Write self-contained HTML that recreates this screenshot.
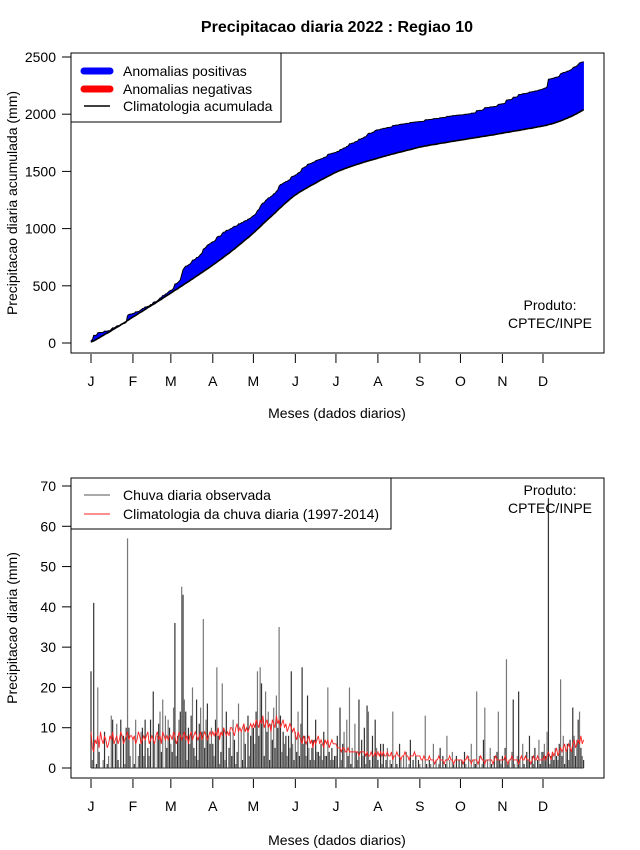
<!DOCTYPE html>
<html><head><meta charset="utf-8"><style>
body{margin:0;background:#fff}
svg{display:block;font-family:"Liberation Sans",sans-serif}
</style></head><body>
<svg id="c" width="640" height="850" viewBox="0 0 640 850" xmlns="http://www.w3.org/2000/svg">
<text x="337" y="32" text-anchor="middle" font-size="16" font-weight="bold">Precipitacao diaria 2022 : Regiao 10</text>
<g id="gtop"></g>
<g id="gbot"></g>
</svg>
<script>
const months = ["J","F","M","A","M","J","J","A","S","O","N","D"];
const monthStart = [1,32,60,91,121,152,182,213,244,274,305,335];
const topTicks = [0,500,1000,1500,2000,2500];
const botTicks = [0,10,20,30,40,50,60,70];
const obsJan=[24,2,41,0,1,20,4,0,0,2,9,0,1,3,0,13,12,0,6,11,2,0,12,0,8,1,10,57,10,3,0];
const obsFeb=[7,1,12,0,3,6,9,10,3,12,0,5,3,12,0,19,6,0,8,11,14,4,17,0,13,5,12,10];
const obsMar=[6,4,15,36,3,8,12,14,45,43,17,14,2,10,6,13,20,5,3,17,2,11,15,9,37,5,12,16,8,6,10];
const obsApr=[6,3,12,25,8,1,4,21,10,2,14,0,5,9,3,12,7,1,4,16,0,9,2,11,6,0,13,3,8,10];
const obsMay=[10,6,14,24,8,25,21,12,3,19,9,14,2,11,7,15,5,18,10,35,13,4,9,6,8,3,8,5,24,6,2];
const obsJun=[9,4,14,3,11,25,6,8,3,18,5,2,5,7,2,12,4,4,3,6,2,9,3,3,20,4,2,5,2,3];
const obsJul=[3,8,0,15,2,6,9,0,12,3,20,1,5,0,11,4,2,17,0,7,3,10,1,15.5,14,2,0,8,3,12,5];
const obsAug=[2,0,6,1,6,0,2,5,0,2,1,14,0,3,1,0,6,2,0,3,0,4,0,1,7,0,2,0,3,0,2];
const obsSep=[1,0,2,0,13,1,0,2,1,0,6,0,2,0,1,5,0,3,0,1,8,0,2,0,4,1,0,3,0,2];
const obsOct=[0,2,0,4,1,0,3,0,6,0,2,1,19,0,3,0,1,7,15,0,2,0,5,1,0,3,0,4,14,2,1];
const obsNov=[3,0,5,27,1,2,0,4,17,1,0,3,19,2,0,6,1,0,4,2,8,0,3,1,5,0,2,7,1,4];
const obsDec=[4,6,3,9,67,1,3,4,2,5,3,2,6,22,3,8,1,4,6,2,7,4,15,8,3,7,12,14,5,3,2];
const climJan=[9,5,4,7,6,8,5,9,7,6,8,7,5,6,8,7,9,6,7,8,6,7,9,8,6,7,8,9,7,8,8];
const climFeb=[7,8,6,7,9,8,6,7,8,7,8,9,6,7,8,7,6,8,9,7,8,6,9,8,7,8,7,8];
const climMar=[8,7,9,8,6,7,9,8,7,8,9,7,8,6,8,9,7,8,9,8,7,8,9,7,8,9,8,7,8,9,8];
const climApr=[9,8,9,8,10,7,9,8,10,9,8,9,8,10,10,9,8,10,11,9,10,9,10,11,9,10,9,10,11,10];
const climMay=[11,10,12,11,10,12,11,13,10,11,12,10,11,9,12,11,10,13,11,12,10,11,12,10,11,9,10,11,10,9,10];
const climJun=[8,7,9,8,7,6,8,7,6,7,8,6,7,5,7,6,7,8,6,7,6,5,7,6,7,5,6,7,6,6];
const climJul=[6,5,5,5,4,5,5,4,4,5,4,4,4,4,4,4,4,3,4,4,4,4,3,4,3,3,4,3,3,4,3];
const climAug=[4,3,4,3,4,3,3,4,3,3,4,2,3,3,4,3,3,2,3,3,4,3,3,2,3,3,3,4,3,3,3];
const climSep=[3,2,2,3,2,2,2,3,2,2,2,1,2,2,3,2,2,2,1,2,2,2,3,2,2,1,2,2,2,2];
const climOct=[2,2,1,2,2,3,2,2,1,2,2,2,2,1,2,3,2,2,1,2,2,2,2,2,1,2,3,2,2,2,2];
const climNov=[2,2,3,2,1,2,2,3,2,2,2,2,1,2,3,2,2,3,2,2,2,1,2,3,2,2,3,2,2,2];
const climDec=[2,3,2,3,4,3,2,4,3,4,5,3,4,5,4,5,6,4,5,6,5,4,6,7,5,6,7,6,8,6,7];
const obs=[].concat(obsJan,obsFeb,obsMar,obsApr,obsMay,obsJun,obsJul,obsAug,obsSep,obsOct,obsNov,obsDec);
const clim=[].concat(climJan,climFeb,climMar,climApr,climMay,climJun,climJul,climAug,climSep,climOct,climNov,climDec);

const NS="http://www.w3.org/2000/svg";
function mk(p,tag,at,txt){const e=document.createElementNS(NS,tag);for(const k in at)e.setAttribute(k,at[k]);if(txt!==undefined)e.textContent=txt;p.appendChild(e);return e;}
const xd = d => 91 + (d-1)*(543-91)/334;
const yT = v => 343 - v*(343-57)/2500;
const yB = v => 768 - v*(768-486)/70;
const gTop=document.getElementById('gtop'), gBot=document.getElementById('gbot');

let co=[],cc=[],so=0,sc=0;
for(let i=0;i<obs.length;i++){so+=obs[i];sc+=clim[i];co.push(so);cc.push(sc);}
for(let i=0;i<co.length-1;i++){
  const pos=(co[i]+co[i+1])>=(cc[i]+cc[i+1]);
  const q=mk(gTop,'polygon',{points:`${xd(i+1)},${yT(co[i])} ${xd(i+2)},${yT(co[i+1])} ${xd(i+2)},${yT(cc[i+1])} ${xd(i+1)},${yT(cc[i])}`,fill:pos?'#0000ff':'#ff0000',stroke:pos?'#0000ff':'#ff0000','stroke-width':0.6});
  
  
}
const pl=mk(gTop,'polyline',{points:co.map((v,i)=>`${xd(i+1)},${yT(v)}`).join(' '),fill:'none',stroke:'#000','stroke-width':1});


const pc=mk(gTop,'polyline',{points:cc.map((v,i)=>`${xd(i+1)},${yT(v)}`).join(' '),fill:'none',stroke:'#000','stroke-width':1.6});



for(let i=0;i<obs.length;i++){
  if(obs[i]<=0)continue;
  const b=mk(gBot,'line',{x1:xd(i+1),x2:xd(i+1),y1:yB(0),y2:yB(obs[i]),stroke:i%2?'#777':'#333','stroke-width':1.2});
  
  
}
const bl=mk(gBot,'line',{x1:xd(1),x2:xd(365),y1:yB(0),y2:yB(0),stroke:'#333','stroke-width':1});


const cl=mk(gBot,'polyline',{points:clim.map((v,i)=>`${xd(i+1)},${yB(v)}`).join(' '),fill:'none',stroke:'#ff2020','stroke-width':0.9});



function axes(g,y0,y1,ticks,yf,ytitle,xTickTop,xLabY,xTitleY){
  const fr=mk(g,'rect',{x:71,y:y0,width:533,height:y1-y0,fill:'none',stroke:'#000','stroke-width':1});
  
  
  ticks.forEach(t=>{
    const y=yf(t);
    const tl=mk(g,'line',{x1:62,x2:71,y1:y,y2:y,stroke:'#000'});
    
    
    const tx=mk(g,'text',{x:56,y:y+5,'text-anchor':'end','font-size':14},String(t));
    
    
  });
  monthStart.forEach((d,i)=>{
    const x=xd(d);
    const tl=mk(g,'line',{x1:x,x2:x,y1:xTickTop,y2:xTickTop+9,stroke:'#000'});
    
    
    const tx=mk(g,'text',{x:x,y:xLabY,'text-anchor':'middle','font-size':14},months[i]);
    
    
  });
  const xt=mk(g,'text',{x:337,y:xTitleY,'text-anchor':'middle','font-size':14},'Meses (dados diarios)');
  
  
  const cy=(y0+y1)/2;
  const yt=mk(g,'text',{x:0,y:0,'text-anchor':'middle','font-size':14,transform:`translate(17,${cy}) rotate(-90)`},ytitle);
  
  
}
axes(gTop,53,353,topTicks,yT,'Precipitacao diaria acumulada (mm)',354,386,418);
axes(gBot,478,778,botTicks,yB,'Precipitacao diaria (mm)',779,811,845);

function credit(g,y){
  const a=mk(g,'text',{x:550,y:y,'text-anchor':'middle','font-size':14},'Produto:');
  
  
  const b=mk(g,'text',{x:550,y:y+18,'text-anchor':'middle','font-size':14},'CPTEC/INPE');
  
  
}
credit(gTop,310);
credit(gBot,495);

const lg1=mk(gTop,'g',{});


mk(lg1,'rect',{x:71,y:53,width:210,height:69,fill:'#fff',stroke:'#000'});
[['Anomalias positivas','#0000ff',7,71],['Anomalias negativas','#ff0000',7,89],['Climatologia acumulada','#000',1.5,106]].forEach(e=>{
  const le=mk(lg1,'g',{});
  
  
  mk(le,'line',{x1:84,x2:110,y1:e[3],y2:e[3],stroke:e[1],'stroke-width':e[2],'stroke-linecap':e[2]>2?'round':'butt'});
  mk(le,'text',{x:123,y:e[3]+5,'font-size':14},e[0]);
});
const lg2=mk(gBot,'g',{});


mk(lg2,'rect',{x:71,y:478,width:320,height:51,fill:'#fff',stroke:'#000'});
[['Chuva diaria observada','#555',495],['Climatologia da chuva diaria (1997-2014)','#ff2020',514]].forEach(e=>{
  const le=mk(lg2,'g',{});
  
  
  mk(le,'line',{x1:84,x2:110,y1:e[2],y2:e[2],stroke:e[1],'stroke-width':1});
  mk(le,'text',{x:123,y:e[2]+5,'font-size':14},e[0]);
});
</script>
</body></html>
